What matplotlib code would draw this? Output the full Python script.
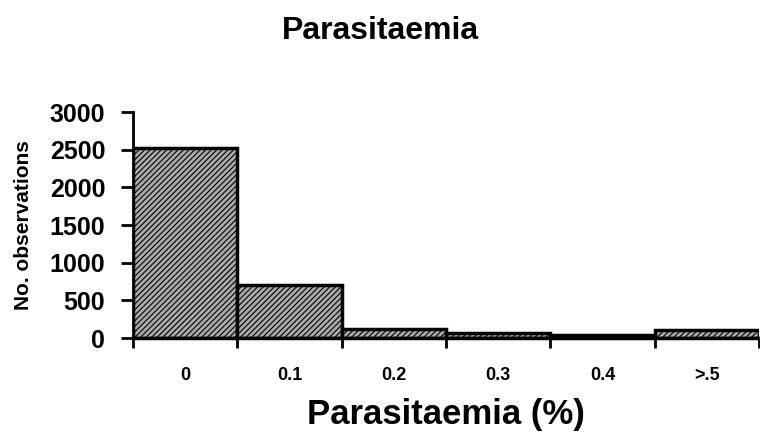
import numpy as np
import matplotlib.pyplot as plt

plt.rcParams['font.family'] = ['Liberation Sans', 'DejaVu Sans']
plt.rcParams['hatch.color'] = '#6e6e6e'
plt.rcParams['hatch.linewidth'] = 0.8

categories = ['0', '0.1', '0.2', '0.3', '0.4', '>.5']
counts = [2520, 700, 120, 60, 40, 100]

fig = plt.figure(figsize=(7.6, 4.43), dpi=100)
ax = fig.add_axes([0.175, 0.237, 0.824, 0.51])

x = np.arange(len(categories))
ax.bar(x + 0.5, counts, width=1.0, color='#aaaaaa', edgecolor='black',
       linewidth=2.5, hatch='//////')

ax.set_xlim(0, len(categories))
ax.set_ylim(0, 3000)
ax.set_yticks(np.arange(0, 3001, 500))
ax.set_xticks(x + 0.5)
ax.set_xticklabels(categories, fontsize=13, fontweight='bold')
ax.set_xticks(np.arange(0, len(categories) + 1), minor=True)
ax.tick_params(axis='x', which='major', length=0, pad=21)
ax.tick_params(axis='x', which='minor', length=7, width=2, direction='out')
ax.tick_params(axis='y', length=9, width=2, labelsize=18, pad=11)
for lbl in ax.get_yticklabels():
    lbl.set_fontweight('bold')

for s in ['top', 'right']:
    ax.spines[s].set_visible(False)
ax.spines['left'].set_linewidth(2)
ax.spines['bottom'].set_linewidth(2.5)

ax.set_ylabel('No. observations', fontsize=15, fontweight='bold', labelpad=12)
ax.set_xlabel('Parasitaemia (%)', fontsize=25, fontweight='bold', labelpad=10)
fig.text(0.5, 0.93, 'Parasitaemia', ha='center', va='center',
         fontsize=23, fontweight='bold')

fig.savefig('out.png', dpi=100)
